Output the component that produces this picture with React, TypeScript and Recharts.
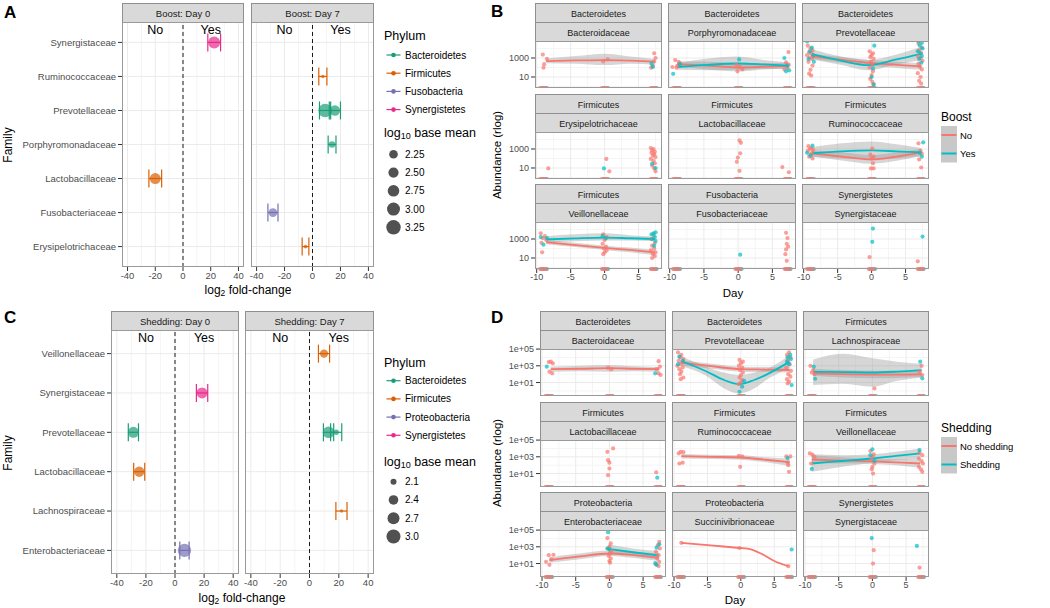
import React from "react";
import {
  ComposedChart,
  Scatter,
  Line,
  Area,
  XAxis,
  YAxis,
  CartesianGrid,
  ReferenceLine,
  ReferenceDot,
  ErrorBar,
} from "recharts";

const FONT = "'Liberation Sans', Arial, Helvetica, sans-serif";
const RED = "#F8766D";
const TEAL = "#00BFC4";
const MAJOR = "#EBEBEB";
const MINOR = "#F5F5F5";
const BORDER = "#9a9a9a";
const STRIP_FILL = "#D9D9D9";
const STRIP_LINE = "#8f8f8f";
const TICK_TEXT = "#4d4d4d";

const phylumColors: Record<string, string> = {
  Bacteroidetes: "#1B9E77",
  Firmicutes: "#D95F02",
  Fusobacteria: "#7570B3",
  Proteobacteria: "#7570B3",
  Synergistetes: "#E7298A",
};

// ---------- Panel A: log2 fold-change by boost ----------
const boostFamilies = [
  "Synergistaceae",
  "Ruminococcaceae",
  "Prevotellaceae",
  "Porphyromonadaceae",
  "Lactobacillaceae",
  "Fusobacteriaceae",
  "Erysipelotrichaceae",
];
const boostPhyla = ["Bacteroidetes", "Firmicutes", "Fusobacteria", "Synergistetes"];
const boostDay0 = [
  { family: "Synergistaceae", phylum: "Synergistetes", lfc: 22.5, se: 4.6, baseMean: 2.82 },
  { family: "Lactobacillaceae", phylum: "Firmicutes", lfc: -20, se: 4.6, baseMean: 2.64 },
];
const boostDay7 = [
  { family: "Ruminococcaceae", phylum: "Firmicutes", lfc: 7.4, se: 2.9, baseMean: 1.47 },
  { family: "Prevotellaceae", phylum: "Bacteroidetes", lfc: 9, se: 4, baseMean: 3.07 },
  { family: "Prevotellaceae", phylum: "Bacteroidetes", lfc: 16, se: 4, baseMean: 2.53 },
  { family: "Porphyromonadaceae", phylum: "Bacteroidetes", lfc: 14, se: 2.8, baseMean: 1.94 },
  { family: "Fusobacteriaceae", phylum: "Fusobacteria", lfc: -28.3, se: 3.6, baseMean: 2.28 },
  { family: "Erysipelotrichaceae", phylum: "Firmicutes", lfc: -5, se: 2.4, baseMean: 1.5 },
];
const boostSizeBreaks = [2.25, 2.5, 2.75, 3.0, 3.25];
const boostSizeRadii = [4.3, 5.1, 5.8, 6.5, 7.2];

// ---------- Panel C: log2 fold-change by shedding ----------
const shedFamilies = [
  "Veillonellaceae",
  "Synergistaceae",
  "Prevotellaceae",
  "Lactobacillaceae",
  "Lachnospiraceae",
  "Enterobacteriaceae",
];
const shedPhyla = ["Bacteroidetes", "Firmicutes", "Proteobacteria", "Synergistetes"];
const shedDay0 = [
  { family: "Synergistaceae", phylum: "Synergistetes", lfc: 18.6, se: 3.9, baseMean: 2.58 },
  { family: "Prevotellaceae", phylum: "Bacteroidetes", lfc: -28.6, se: 3.5, baseMean: 2.58 },
  { family: "Lactobacillaceae", phylum: "Firmicutes", lfc: -24.6, se: 3.8, baseMean: 2.5 },
  { family: "Enterobacteriaceae", phylum: "Proteobacteria", lfc: 6.5, se: 3.2, baseMean: 2.9 },
];
const shedDay7 = [
  { family: "Veillonellaceae", phylum: "Firmicutes", lfc: 9.9, se: 3.8, baseMean: 2.3 },
  { family: "Prevotellaceae", phylum: "Bacteroidetes", lfc: 13, se: 3.5, baseMean: 2.65 },
  { family: "Prevotellaceae", phylum: "Bacteroidetes", lfc: 18.2, se: 3.8, baseMean: 2.05 },
  { family: "Lachnospiraceae", phylum: "Firmicutes", lfc: 21.8, se: 3.8, baseMean: 1.88 },
];
const shedSizeBreaks = [2.1, 2.4, 2.7, 3.0];
const shedSizeRadii = [3.0, 4.8, 6.0, 7.0];

// ---------- axes ----------
const foldTicks = [-40, -20, 0, 20, 40];
const foldMinor = [-30, -10, 10, 30];
const dayTicks = [-10, -5, 0, 5];
const dayMinor = [-7.5, -2.5, 2.5, 7.5];
const boostAbTicks = [1, 3]; // log10 abundance
const shedAbTicks = [1, 3, 5];
const abMinor = [0, 2, 4];

// ---------- Panels B and D: log10 abundance by day ----------
type Pt = [number, number]; // [day, log10 abundance]
type Fit = [number, number, number?, number?]; // [day, fit, lower, upper]
type AbFacet = { phylum: string; family: string; no: Pt[]; yes: Pt[]; noFit?: Fit[]; yesFit?: Fit[] };

// samples with zero counts (drawn on the bottom edge)
const zeroDaysNo = [-9.5, -9.35, -9.2, -9.05, -8.9, -8.75, -8.6, -0.4, -0.25, -0.1, 0.05, 0.2, 0.35, 6.8, 6.95, 7.1, 7.25, 7.4, 7.55];
const zeroDaysYes = [-9.0, -8.5, 0.5, 7.65];

const bBacteroidaceae: AbFacet = {
  phylum: "Bacteroidetes",
  family: "Bacteroidaceae",
  no: [[-9.1, 3.36], [-8.9, 2.35], [-9.0, 1.98], [-8.5, 2.9], [-0.2, 2.64], [0.45, 2.85], [7.3, 3.5], [7.5, 3.0], [7.3, 2.64], [7.1, 2.16], [6.85, 1.98]],
  yes: [[7.1, 2.05], [6.9, 2.4]],
  noFit: [[-8.6, 2.68, 2.45, 2.95], [-4.3, 2.74, 2.4, 3.2], [0, 2.78, 2.25, 3.45], [3.8, 2.72, 2.4, 3.15], [7.4, 2.62, 2.3, 2.9]],
};
const bPorphyromonadaceae: AbFacet = {
  phylum: "Bacteroidetes",
  family: "Porphyromonadaceae",
  no: [[-9.2, 2.78], [-8.9, 2.16], [-8.5, 2.42], [-9.0, 1.98], [-9.6, 2.05], [-8.7, 2.6], [-0.1, 1.6], [0.6, 1.8], [0.2, 2.1], [-0.3, 2.3], [7.35, 3.62], [7.0, 2.53], [7.2, 1.98], [6.75, 1.8], [7.4, 2.3]],
  yes: [[-9.5, 1.33], [-8.5, 2.35], [0.15, 2.85], [6.75, 3.0], [7.0, 1.6], [7.45, 1.7], [7.2, 2.2]],
  noFit: [[-8.9, 2.35, 2.1, 2.65], [-4.4, 2.2, 1.8, 2.6], [0, 2.0, 1.6, 2.5], [3.7, 2.08, 1.8, 2.45], [7.3, 2.16, 1.9, 2.5]],
  yesFit: [[-8.9, 2.05, 1.75, 2.45], [-4.4, 2.28, 1.7, 2.95], [0, 2.42, 1.75, 3.15], [3.7, 2.33, 1.85, 2.8], [7.3, 2.2, 1.85, 2.55]],
};
const bPrevotellaceae: AbFacet = {
  phylum: "Bacteroidetes",
  family: "Prevotellaceae",
  no: [
    [-9.4, 4.3], [-9.0, 4.0], [-8.7, 3.8], [-9.2, 3.6], [-8.9, 3.45], [-9.5, 3.3], [-8.6, 3.2], [-9.1, 3.05], [-8.8, 2.9], [-9.3, 2.6], [-8.7, 2.2], [-9.0, 1.75], [-9.2, 1.35], [-8.9, 1.15],
    [-0.3, 3.7], [0.2, 3.5], [0.0, 3.3], [-0.2, 3.1], [0.3, 2.9], [-0.1, 2.6], [0.1, 2.3], [-0.3, 2.0], [0.2, 1.6], [0.0, 1.2], [-0.2, 0.8], [0.1, 0.5], [0.3, 0.25],
    [6.9, 4.5], [7.4, 4.1], [7.0, 3.8], [7.3, 3.5], [6.8, 3.2], [7.2, 3.0], [7.5, 2.7], [6.9, 2.4], [7.1, 2.1], [7.4, 1.8], [6.8, 1.4], [7.2, 1.0], [7.0, 0.6], [7.3, 0.3],
  ],
  yes: [
    [-9.5, 4.75], [-8.8, 4.1], [-9.1, 3.7], [-8.6, 3.3], [-9.3, 2.9], [-8.5, 2.6],
    [0.4, 4.3], [0.2, 1.9], [0.0, 1.0], [0.3, 0.2],
    [6.9, 4.75], [7.4, 4.6], [7.1, 4.3], [7.5, 4.0], [6.8, 3.7], [7.2, 3.5], [7.4, 3.2], [7.0, 2.9], [7.3, 2.5],
  ],
  noFit: [[-8.8, 3.18, 2.9, 3.45], [-4.4, 2.8, 2.5, 3.1], [0, 2.46, 2.15, 2.75], [3.7, 2.28, 1.95, 2.6], [7.3, 2.1, 1.75, 2.45]],
  yesFit: [[-8.8, 3.4, 2.85, 3.95], [-4.4, 2.7, 2.25, 3.15], [-0.5, 2.25, 1.7, 2.8], [3.5, 2.82, 2.3, 3.35], [7.3, 3.43, 2.75, 4.15]],
};
const bErysipelotrichaceae: AbFacet = {
  phylum: "Firmicutes",
  family: "Erysipelotrichaceae",
  no: [
    [-8.3, 0.95], [0.25, 1.95], [0.7, 0.65],
    [6.8, 3.1], [7.2, 3.0], [7.0, 2.85], [7.4, 2.7], [6.9, 2.6], [7.3, 2.45], [7.1, 2.3], [7.5, 2.15], [6.8, 1.95], [7.2, 1.75], [7.4, 1.5], [7.0, 1.25], [7.3, 0.95], [7.5, 0.65],
  ],
  yes: [[-0.1, 0.95], [7.0, 1.45], [7.5, 1.0]],
};
const bLactobacillaceae: AbFacet = {
  phylum: "Firmicutes",
  family: "Lactobacillaceae",
  no: [[0.2, 3.9], [0.4, 3.65], [0.3, 2.55], [-0.05, 2.1], [-0.2, 1.65], [0.2, 0.7], [6.45, 1.1], [7.4, 0.55]],
  yes: [],
};
const bRuminococcaceae: AbFacet = {
  phylum: "Firmicutes",
  family: "Ruminococcaceae",
  no: [
    [-9.3, 3.3], [-8.9, 3.1], [-9.1, 3.0], [-8.6, 2.9], [-9.4, 2.8], [-8.8, 2.6], [-9.0, 2.4], [-9.2, 2.2], [-8.7, 2.0],
    [0.1, 3.05], [-0.2, 2.4], [0.3, 2.2], [0.0, 2.0], [0.2, 1.5], [-0.1, 0.95], [0.3, 0.95],
    [6.9, 3.6], [7.2, 2.8], [7.4, 2.5], [7.0, 1.9], [7.3, 1.05],
  ],
  yes: [[-9.5, 2.6], [-8.7, 3.35], [-9.0, 2.3], [7.6, 3.7], [7.1, 2.6], [7.4, 2.2]],
  noFit: [[-8.8, 2.55, 2.2, 2.9], [-4.4, 2.2, 1.8, 2.65], [0, 1.9, 1.45, 2.35], [3.7, 2.2, 1.75, 2.65], [7.3, 2.64, 2.3, 3.0]],
  yesFit: [[-8.8, 2.55, 2.15, 3.2], [-4.4, 2.75, 2.0, 3.6], [0, 2.85, 1.9, 3.8], [3.7, 2.75, 2.0, 3.5], [7.3, 2.64, 2.2, 3.1]],
};
const bVeillonellaceae: AbFacet = {
  phylum: "Firmicutes",
  family: "Veillonellaceae",
  no: [
    [-9.4, 3.6], [-8.8, 3.3], [-9.1, 3.1], [-8.6, 2.9], [-9.3, 2.6], [-9.2, 1.6],
    [-0.2, 3.5], [0.3, 3.2], [0.0, 2.9], [-0.3, 2.5], [0.2, 2.2], [-0.1, 2.0], [0.3, 1.8], [0.0, 1.6], [-0.2, 1.4],
    [7.2, 3.4], [6.9, 3.0], [7.4, 2.6], [7.0, 2.3], [7.3, 2.0], [6.8, 1.8], [7.5, 1.6], [7.1, 1.4], [7.4, 1.2], [7.0, 1.0],
  ],
  yes: [[-9.4, 3.2], [-8.5, 3.1], [-9.0, 2.4], [-0.3, 3.3], [0.2, 3.1], [7.5, 3.7], [7.2, 3.6], [6.9, 3.5], [7.4, 3.2], [7.0, 3.0], [7.5, 2.8], [7.3, 2.3]],
  noFit: [[-8.6, 2.65, 2.45, 2.9], [-4.3, 2.35, 2.15, 2.6], [0, 2.07, 1.85, 2.3], [3.7, 1.85, 1.6, 2.1], [7.4, 1.6, 1.3, 1.85]],
  yesFit: [[-8.6, 2.95, 2.6, 3.3], [-4.3, 3.07, 2.75, 3.5], [0, 3.15, 2.85, 3.6], [3.7, 3.08, 2.85, 3.4], [7.4, 3.0, 2.75, 3.25]],
};
const bFusobacteriaceae: AbFacet = {
  phylum: "Fusobacteria",
  family: "Fusobacteriaceae",
  no: [[7.0, 3.65], [7.2, 3.1], [7.1, 2.5], [7.3, 2.2], [7.0, 1.9], [6.9, 1.4], [7.1, 0.7]],
  yes: [[0.3, 1.35]],
};
const bSynergistaceae: AbFacet = {
  phylum: "Synergistetes",
  family: "Synergistaceae",
  no: [[-0.3, 1.1], [6.8, 0.65]],
  yes: [[0.2, 4.1], [0.1, 2.7], [7.5, 3.25]],
};

const dBacteroidaceae: AbFacet = {
  phylum: "Bacteroidetes",
  family: "Bacteroidaceae",
  no: [[-9.0, 3.45], [-8.7, 3.5], [-8.9, 2.3], [-8.5, 2.1], [-8.4, 3.3], [-0.2, 2.75], [0.3, 2.6], [7.3, 3.55], [7.5, 2.9], [7.0, 2.6], [7.3, 2.1], [7.6, 1.9]],
  yes: [[-9.3, 2.9], [6.8, 2.1]],
  noFit: [[-8.7, 2.6, 2.3, 2.9], [-4.3, 2.65, 2.35, 3.0], [0, 2.72, 2.3, 3.1], [3.7, 2.65, 2.35, 2.95], [7.4, 2.6, 2.3, 2.85]],
};
const dPrevotellaceae: AbFacet = {
  phylum: "Bacteroidetes",
  family: "Prevotellaceae",
  no: [
    [-9.4, 4.6], [-8.9, 4.3], [-9.1, 4.0], [-8.6, 3.8], [-9.3, 3.6], [-8.8, 3.4], [-9.0, 3.2], [-9.5, 3.0], [-8.7, 2.8], [-9.2, 2.6], [-8.9, 2.3], [-9.1, 2.0], [-8.6, 1.6], [-9.0, 1.4],
    [-0.2, 3.7], [0.3, 3.5], [0.0, 3.3], [-0.3, 3.0], [0.2, 2.8], [-0.1, 2.5], [0.3, 2.2], [0.0, 1.9], [-0.2, 1.6], [0.2, 1.3], [0.0, 1.0], [-0.3, 0.8],
    [7.2, 4.6], [6.9, 4.3], [7.4, 4.0], [7.0, 3.6], [7.3, 3.2], [6.8, 2.8], [7.5, 2.4], [7.1, 2.0], [7.4, 1.7], [6.9, 1.4], [7.2, 1.1], [7.0, 0.9],
  ],
  yes: [[-9.2, 4.1], [-8.7, 3.6], [-9.4, 3.2], [0.5, 1.2], [0.2, 0.5], [-0.2, -0.1], [7.4, 4.3], [7.0, 4.0], [7.5, 3.8], [6.9, 3.5], [7.2, 3.2], [7.6, 0.7]],
  noFit: [[-8.8, 3.35, 3.05, 3.65], [-4.4, 2.95, 2.65, 3.25], [0, 2.6, 2.3, 2.9], [3.7, 2.55, 2.25, 2.85], [7.3, 2.5, 2.2, 2.8]],
  yesFit: [[-8.8, 3.55, 2.95, 4.1], [-5.2, 2.35, 1.8, 2.9], [-2.5, 1.3, 0.3, 2.2], [-0.3, 0.8, -0.3, 1.9], [2.0, 1.3, 0.3, 2.2], [4.2, 2.1, 1.5, 2.75], [7.3, 3.5, 2.75, 4.3]],
};
const dLachnospiraceae: AbFacet = {
  phylum: "Firmicutes",
  family: "Lachnospiraceae",
  no: [[-9.2, 3.0], [-8.8, 2.5], [-9.0, 2.2], [-8.6, 2.0], [0.3, 0.3], [7.3, 3.0], [7.0, 2.3], [7.4, 1.9]],
  yes: [[-8.7, 2.9], [-8.5, 1.45], [7.1, 3.5], [7.4, 1.5]],
  noFit: [[-8.8, 2.1, 1.8, 2.65], [-4.4, 2.0, 1.6, 2.5], [0, 1.95, 1.5, 2.4], [3.7, 1.95, 1.55, 2.4], [7.3, 1.98, 1.65, 2.4]],
  yesFit: [[-8.8, 2.28, 0.7, 3.75], [-4.4, 2.25, 0.85, 4.45], [0, 2.2, 0.5, 3.9], [3.7, 2.3, 1.2, 3.5], [7.3, 2.48, 1.6, 3.25]],
};
const dLactobacillaceae: AbFacet = {
  phylum: "Firmicutes",
  family: "Lactobacillaceae",
  no: [[0.55, 4.0], [-0.3, 3.6], [-0.2, 2.6], [0.0, 2.3], [0.0, 1.6], [-0.2, 0.8], [6.95, 1.15]],
  yes: [[7.1, 0.5]],
};
const dRuminococcaceae: AbFacet = {
  phylum: "Firmicutes",
  family: "Ruminococcaceae",
  no: [[-9.3, 3.4], [-9.0, 3.6], [-8.6, 3.55], [-9.2, 2.2], [-8.7, 2.3], [-0.3, 3.1], [0.2, 3.05], [-0.1, 1.8], [6.8, 3.05], [7.4, 3.05], [7.0, 2.3], [7.1, 2.0], [7.2, 1.2]],
  yes: [[7.0, 2.85]],
  noFit: [[-8.9, 3.08, 2.8, 3.35], [-4.4, 3.0, 2.75, 3.25], [0, 2.92, 2.65, 3.2], [3.7, 2.65, 2.35, 2.95], [7.3, 2.36, 1.9, 2.8]],
};
const dVeillonellaceae: AbFacet = {
  phylum: "Firmicutes",
  family: "Veillonellaceae",
  no: [
    [-9.3, 3.4], [-8.9, 3.25], [-9.1, 2.2], [-8.6, 3.0],
    [-0.3, 3.68], [0.2, 3.3], [0.0, 3.0], [-0.2, 2.6], [0.3, 2.2], [0.0, 1.8], [-0.1, 1.5], [0.1, 1.0],
    [7.0, 3.5], [7.4, 3.2], [6.9, 2.8], [7.3, 2.5], [7.5, 2.2], [6.9, 1.8], [7.2, 1.5], [7.4, 1.2],
  ],
  yes: [[-9.0, 1.55], [0.0, 3.9], [-0.3, 3.2], [0.3, 2.5], [7.0, 3.8]],
  noFit: [[-9.0, 2.68, 2.2, 3.2], [-4.5, 2.55, 2.2, 2.95], [0, 2.45, 2.15, 2.75], [3.5, 2.33, 2.0, 2.7], [7.1, 2.2, 1.7, 2.7]],
  yesFit: [[-9.0, 2.2, 1.2, 3.3], [-4.5, 2.5, 1.8, 3.2], [0, 2.8, 2.3, 3.3], [3.5, 3.1, 2.6, 3.6], [7.1, 3.4, 2.75, 4.0]],
};
const dEnterobacteriaceae: AbFacet = {
  phylum: "Proteobacteria",
  family: "Enterobacteriaceae",
  no: [
    [-9.4, 1.2], [-9.0, 2.0], [-8.9, 0.85], [-8.6, 1.5], [-8.3, 2.05],
    [-0.3, 4.05], [0.2, 3.4], [0.0, 3.0], [-0.2, 2.8], [0.3, 2.5], [0.1, 2.2], [-0.1, 1.9], [0.2, 1.6], [0.0, 1.3], [0.1, 1.1],
    [7.4, 3.6], [7.2, 3.2], [7.5, 2.8], [6.9, 2.4], [7.3, 2.0], [7.1, 1.6], [7.4, 1.2], [6.9, 0.9], [7.3, 0.7],
  ],
  yes: [[-0.2, 4.75], [-0.3, 2.8], [0.0, 2.7], [7.4, 3.3], [7.0, 2.9], [6.8, 1.05], [7.0, 0.85]],
  noFit: [[-8.9, 1.4, 1.1, 1.75], [-4.4, 1.85, 1.5, 2.2], [0, 2.2, 1.9, 2.55], [3.7, 2.0, 1.65, 2.4], [7.3, 1.7, 1.3, 2.2]],
  yesFit: [[-0.2, 2.76, 2.3, 3.3], [3.5, 2.35, 1.9, 2.8], [7.3, 1.96, 1.5, 2.5]],
};
const dSuccinivibrionaceae: AbFacet = {
  phylum: "Proteobacteria",
  family: "Succinivibrionaceae",
  no: [[-8.9, 3.48], [-0.2, 2.86], [7.1, 0.68]],
  yes: [[7.6, 2.68]],
  noFit: [[-8.9, 3.48], [-4.5, 3.18], [-0.2, 2.86], [1.0, 2.78], [3.0, 2.2], [5.0, 1.3], [7.1, 0.68]],
};
const dSynergistaceae: AbFacet = {
  phylum: "Synergistetes",
  family: "Synergistaceae",
  no: [[0.2, 2.6], [0.1, 1.0], [7.0, 0.5]],
  yes: [[-0.1, 4.05], [6.6, 3.1]],
};

const boostFacets = [
  bBacteroidaceae, bPorphyromonadaceae, bPrevotellaceae,
  bErysipelotrichaceae, bLactobacillaceae, bRuminococcaceae,
  bVeillonellaceae, bFusobacteriaceae, bSynergistaceae,
];
const shedFacets = [
  dBacteroidaceae, dPrevotellaceae, dLachnospiraceae,
  dLactobacillaceae, dRuminococcaceae, dVeillonellaceae,
  dEnterobacteriaceae, dSuccinivibrionaceae, dSynergistaceae,
];

// ---------- layout ----------
const M = { top: 8, right: 8, bottom: 0, left: 10 };
const A_TOP = 22;
const A_H = 245;
const C_TOP = 330;
const C_H = 244;
const B_COLS = [535, 668, 802];
const B_W = [127, 128, 127];
const B_ROWS = [41, 132, 222];
const D_COLS = [540, 672, 803];
const D_W = [126, 125, 126];
const D_ROWS = [349, 440, 530];
const AB_H = 47;

function sizeScale(breaks: number[], radii: number[]) {
  return (v: number) => {
    const n = breaks.length;
    if (v <= breaks[0]) {
      const s = (radii[1] - radii[0]) / (breaks[1] - breaks[0]);
      return Math.max(1.5, radii[0] + (v - breaks[0]) * s);
    }
    for (let i = 1; i < n; i++) {
      if (v <= breaks[i]) {
        const t = (v - breaks[i - 1]) / (breaks[i] - breaks[i - 1]);
        return radii[i - 1] + t * (radii[i] - radii[i - 1]);
      }
    }
    const s = (radii[n - 1] - radii[n - 2]) / (breaks[n - 1] - breaks[n - 2]);
    return radii[n - 1] + (v - breaks[n - 1]) * s;
  };
}
const boostRadius = sizeScale(boostSizeBreaks, boostSizeRadii);
const shedRadius = sizeScale(shedSizeBreaks, shedSizeRadii);

interface FoldRow {
  family: string;
  phylum: string;
  lfc: number;
  se: number;
  baseMean: number;
}

function FoldFacet(props: {
  rows: FoldRow[];
  families: string[];
  phyla: string[];
  left: number;
  top: number;
  w: number;
  h: number;
  showY: boolean;
  yAxisW: number;
  radius: (v: number) => number;
  labelY: number;
}) {
  const { rows, families, phyla, left, top, w, h, showY, yAxisW, radius, labelY } = props;
  const n = families.length;
  const yw = showY ? yAxisW : 0;
  const xh = 20;
  const table = rows.map((r) => ({ ...r, yi: n - 1 - families.indexOf(r.family) }));
  const yTicks = families.map((_, i) => i);
  const tick = { fontSize: 9.5, fill: TICK_TEXT, fontFamily: FONT };
  const label = (value: string) => ({ value, position: "center" as const, fontSize: 12.5, fill: "#000", fontFamily: FONT });
  return (
    <div style={{ position: "absolute", left: left - yw - M.left, top: top - M.top }}>
      <ComposedChart width={w + yw + M.left + M.right} height={h + xh + M.top + M.bottom} margin={M}>
        <CartesianGrid verticalValues={foldMinor} horizontal={false} stroke={MINOR} />
        <CartesianGrid verticalValues={foldTicks} horizontalValues={yTicks} stroke={MAJOR} />
        <XAxis
          type="number"
          dataKey="lfc"
          domain={[-44, 44]}
          ticks={foldTicks}
          interval={0}
          allowDataOverflow
          height={xh}
          tick={tick}
          tickSize={4}
          tickMargin={1}
          tickLine={{ stroke: "#333" }}
          axisLine={false}
        />
        <YAxis
          type="number"
          domain={[-0.6, n - 0.4]}
          ticks={yTicks}
          interval={0}
          allowDataOverflow
          hide={!showY}
          width={yAxisW}
          tick={tick}
          tickSize={4}
          tickMargin={2}
          tickLine={{ stroke: "#333" }}
          axisLine={false}
          tickFormatter={(v: number) => families[n - 1 - v] ?? ""}
        />
        <ReferenceLine x={0} stroke="#1a1a1a" strokeDasharray="4 3" strokeWidth={1} />
        <ReferenceDot x={-20} y={labelY} r={0} fill="none" stroke="none" label={label("No")} />
        <ReferenceDot x={20} y={labelY} r={0} fill="none" stroke="none" label={label("Yes")} />
        {phyla.map((p) => {
          const data = table.filter((r) => r.phylum === p);
          if (!data.length) return null;
          const c = phylumColors[p];
          return (
            <Scatter
              key={p}
              data={data}
              dataKey="yi"
              isAnimationActive={false}
              shape={(s: any) => (
                <circle cx={s.cx} cy={s.cy} r={radius(s.payload.baseMean)} fill={c} fillOpacity={0.7} />
              )}
            >
              <ErrorBar dataKey="se" direction="x" width={9} stroke={c} strokeWidth={1.2} />
            </Scatter>
          );
        })}
      </ComposedChart>
    </div>
  );
}

function dotShape(color: string) {
  return (s: any) => <circle cx={s.cx} cy={s.cy} r={2.1} fill={color} fillOpacity={0.7} />;
}

function AbundanceFacet(props: {
  f: AbFacet;
  left: number;
  top: number;
  w: number;
  h: number;
  showX: boolean;
  showY: boolean;
  xDomain: [number, number];
  yDomain: [number, number];
  yTicks: number[];
  yFmt: (v: number) => string;
}) {
  const { f, left, top, w, h, showX, showY, xDomain, yDomain, yTicks, yFmt } = props;
  const yw = showY ? 42 : 0;
  const xh = showX ? 18 : 0;
  const floor = yDomain[0];
  const pts = (list: Pt[]) => list.map(([d, v]) => ({ day: d, v }));
  const zeros = (days: number[]) => days.map((d) => ({ day: d, v: floor }));
  const fit = (list?: Fit[]) =>
    (list ?? []).map(([d, m, l, u]) => ({ day: d, fit: m, band: l === undefined ? undefined : [l, u] }));
  const noFit = fit(f.noFit);
  const yesFit = fit(f.yesFit);
  const hasBand = (r: { band?: unknown }[]) => r.length > 0 && r[0].band !== undefined;
  const tick = { fontSize: 9, fill: TICK_TEXT, fontFamily: FONT };
  return (
    <div style={{ position: "absolute", left: left - yw - M.left, top: top - M.top }}>
      <ComposedChart width={w + yw + M.left + M.right} height={h + xh + M.top + M.bottom} margin={M}>
        <CartesianGrid verticalValues={dayMinor} horizontalValues={abMinor} stroke={MINOR} />
        <CartesianGrid verticalValues={dayTicks} horizontalValues={yTicks} stroke={MAJOR} />
        <XAxis
          type="number"
          dataKey="day"
          domain={xDomain}
          ticks={dayTicks}
          interval={0}
          hide={!showX}
          height={18}
          tick={tick}
          tickSize={4}
          tickMargin={1}
          tickLine={{ stroke: "#333" }}
          axisLine={false}
        />
        <YAxis
          type="number"
          domain={yDomain}
          ticks={yTicks}
          interval={0}
          hide={!showY}
          width={42}
          tick={tick}
          tickSize={4}
          tickMargin={2}
          tickLine={{ stroke: "#333" }}
          axisLine={false}
          tickFormatter={yFmt}
        />
        {hasBand(noFit) && (
          <Area data={noFit} dataKey="band" type="monotone" stroke="none" fill="#999999" fillOpacity={0.4} dot={false} activeDot={false} isAnimationActive={false} />
        )}
        {hasBand(yesFit) && (
          <Area data={yesFit} dataKey="band" type="monotone" stroke="none" fill="#999999" fillOpacity={0.4} dot={false} activeDot={false} isAnimationActive={false} />
        )}
        <Scatter data={zeros(zeroDaysYes)} dataKey="v" isAnimationActive={false} shape={dotShape(TEAL)} />
        <Scatter data={zeros(zeroDaysNo)} dataKey="v" isAnimationActive={false} shape={dotShape(RED)} />
        <Scatter data={pts(f.no)} dataKey="v" isAnimationActive={false} shape={dotShape(RED)} />
        <Scatter data={pts(f.yes)} dataKey="v" isAnimationActive={false} shape={dotShape(TEAL)} />
        {noFit.length > 0 && (
          <Line data={noFit} dataKey="fit" type="monotone" stroke={RED} strokeWidth={1.8} dot={false} activeDot={false} isAnimationActive={false} />
        )}
        {yesFit.length > 0 && (
          <Line data={yesFit} dataKey="fit" type="monotone" stroke={TEAL} strokeWidth={1.8} dot={false} activeDot={false} isAnimationActive={false} />
        )}
      </ComposedChart>
    </div>
  );
}

function Strip({ x, y, w, label, fs }: { x: number; y: number; w: number; label: string; fs: number }) {
  return (
    <g>
      <rect x={x + 0.5} y={y + 0.5} width={w - 1} height={19} fill={STRIP_FILL} stroke={STRIP_LINE} />
      <text x={x + w / 2} y={y + 10.5} fontSize={fs} fill="#1a1a1a" textAnchor="middle" dominantBaseline="central">
        {label}
      </text>
    </g>
  );
}

function PanelBox({ x, y, w, h }: { x: number; y: number; w: number; h: number }) {
  return <rect x={x + 0.5} y={y + 0.5} width={w - 1} height={h - 1} fill="none" stroke={BORDER} />;
}

function FoldLegend({ phyla, titleY, itemY0, sizeTitleY, sizeY0, breaks, radius, fmt }: {
  phyla: string[];
  titleY: number;
  itemY0: number;
  sizeTitleY: number;
  sizeY0: number;
  breaks: number[];
  radius: (v: number) => number;
  fmt: (v: number) => string;
}) {
  return (
    <g>
      <text x={384} y={titleY} fontSize={12.5} dominantBaseline="central">Phylum</text>
      {phyla.map((p, i) => {
        const y = itemY0 + i * 18.2;
        return (
          <g key={p}>
            <line x1={386.5} x2={400.5} y1={y} y2={y} stroke={phylumColors[p]} strokeWidth={1.2} />
            <circle cx={393.5} cy={y} r={2.3} fill={phylumColors[p]} />
            <text x={405} y={y} fontSize={10} dominantBaseline="central">{p}</text>
          </g>
        );
      })}
      <text x={384} y={sizeTitleY} fontSize={12.5} dominantBaseline="central">
        log<tspan fontSize={9} dy={3}>10</tspan>
        <tspan dy={-3}> base mean</tspan>
      </text>
      {breaks.map((b, i) => {
        const y = sizeY0 + i * 18.25;
        return (
          <g key={b}>
            <circle cx={393.5} cy={y} r={radius(b)} fill="#333" fillOpacity={0.85} />
            <text x={405} y={y} fontSize={10} dominantBaseline="central">{fmt(b)}</text>
          </g>
        );
      })}
    </g>
  );
}

function GroupLegend({ title, titleY, labels }: { title: string; titleY: number; labels: string[] }) {
  const y0 = titleY + 9;
  return (
    <g>
      <text x={941} y={titleY} fontSize={12} dominantBaseline="central">{title}</text>
      <rect x={941} y={y0} width={16} height={36.5} fill="#C8C8C8" />
      {labels.map((l, i) => {
        const y = y0 + 9 + i * 18.5;
        return (
          <g key={l}>
            <line x1={941.5} x2={956.5} y1={y} y2={y} stroke={i === 0 ? RED : TEAL} strokeWidth={2} />
            <text x={960} y={y} fontSize={9.5} dominantBaseline="central">{l}</text>
          </g>
        );
      })}
    </g>
  );
}

function Overlay() {
  const aFacets = [
    { left: 122, w: 122, title: "Boost: Day 0" },
    { left: 251, w: 123, title: "Boost: Day 7" },
  ];
  const cFacets = [
    { left: 111, w: 128, title: "Shedding: Day 0" },
    { left: 245, w: 129, title: "Shedding: Day 7" },
  ];
  return (
    <svg
      width={1050}
      height={608}
      style={{ position: "absolute", left: 0, top: 0, pointerEvents: "none" }}
      fontFamily={FONT}
    >
      <text x={4} y={18} fontSize={17} fontWeight="bold">A</text>
      <text x={491} y={17} fontSize={17} fontWeight="bold">B</text>
      <text x={4} y={323} fontSize={17} fontWeight="bold">C</text>
      <text x={491} y={323} fontSize={17} fontWeight="bold">D</text>

      {aFacets.map((f) => (
        <g key={f.title}>
          <Strip x={f.left} y={A_TOP - 19} w={f.w} label={f.title} fs={9.5} />
          <PanelBox x={f.left} y={A_TOP} w={f.w} h={A_H} />
        </g>
      ))}
      {cFacets.map((f) => (
        <g key={f.title}>
          <Strip x={f.left} y={C_TOP - 19} w={f.w} label={f.title} fs={9.5} />
          <PanelBox x={f.left} y={C_TOP} w={f.w} h={C_H} />
        </g>
      ))}
      {boostFacets.map((f, i) => {
        const x = B_COLS[i % 3];
        const w = B_W[i % 3];
        const y = B_ROWS[Math.floor(i / 3)];
        return (
          <g key={"b" + f.family}>
            <Strip x={x} y={y - 38} w={w} label={f.phylum} fs={9} />
            <Strip x={x} y={y - 19} w={w} label={f.family} fs={9} />
            <PanelBox x={x} y={y} w={w} h={AB_H} />
          </g>
        );
      })}
      {shedFacets.map((f, i) => {
        const x = D_COLS[i % 3];
        const w = D_W[i % 3];
        const y = D_ROWS[Math.floor(i / 3)];
        return (
          <g key={"d" + f.family}>
            <Strip x={x} y={y - 38} w={w} label={f.phylum} fs={9} />
            <Strip x={x} y={y - 19} w={w} label={f.family} fs={9} />
            <PanelBox x={x} y={y} w={w} h={AB_H} />
          </g>
        );
      })}

      {/* axis titles */}
      <text transform="translate(8,145) rotate(-90)" fontSize={12} textAnchor="middle" dominantBaseline="central">Family</text>
      <text x={248} y={290} fontSize={12} textAnchor="middle" dominantBaseline="central">
        log<tspan fontSize={8.5} dy={3}>2</tspan>
        <tspan dy={-3}> fold-change</tspan>
      </text>
      <text transform="translate(8,453) rotate(-90)" fontSize={12} textAnchor="middle" dominantBaseline="central">Family</text>
      <text x={242} y={598} fontSize={12} textAnchor="middle" dominantBaseline="central">
        log<tspan fontSize={8.5} dy={3}>2</tspan>
        <tspan dy={-3}> fold-change</tspan>
      </text>
      <text transform="translate(497,155) rotate(-90)" fontSize={11.5} textAnchor="middle" dominantBaseline="central">Abundance (rlog)</text>
      <text x={733} y={293} fontSize={11.5} textAnchor="middle" dominantBaseline="central">Day</text>
      <text transform="translate(497,463) rotate(-90)" fontSize={11.5} textAnchor="middle" dominantBaseline="central">Abundance (rlog)</text>
      <text x={735} y={600} fontSize={11.5} textAnchor="middle" dominantBaseline="central">Day</text>

      {/* legends */}
      <FoldLegend
        phyla={boostPhyla}
        titleY={36}
        itemY0={55}
        sizeTitleY={133}
        sizeY0={154.3}
        breaks={boostSizeBreaks}
        radius={boostRadius}
        fmt={(v) => v.toFixed(2)}
      />
      <FoldLegend
        phyla={shedPhyla}
        titleY={362.5}
        itemY0={380.7}
        sizeTitleY={462}
        sizeY0={481.7}
        breaks={shedSizeBreaks}
        radius={shedRadius}
        fmt={(v) => v.toFixed(1)}
      />
      <GroupLegend title="Boost" titleY={117} labels={["No", "Yes"]} />
      <GroupLegend title="Shedding" titleY={428} labels={["No shedding", "Shedding"]} />
    </svg>
  );
}

export default function App() {
  return (
    <div
      style={{
        position: "absolute",
        left: 0,
        top: 0,
        width: 1050,
        height: 608,
        background: "#fff",
        fontFamily: FONT,
        overflow: "hidden",
      }}
    >
      {[boostDay0, boostDay7].map((rows, i) => (
        <FoldFacet
          key={"a" + i}
          rows={rows}
          families={boostFamilies}
          phyla={boostPhyla}
          left={i === 0 ? 122 : 251}
          top={A_TOP}
          w={i === 0 ? 122 : 123}
          h={A_H}
          showY={i === 0}
          yAxisW={110}
          radius={boostRadius}
          labelY={6.39}
        />
      ))}
      {[shedDay0, shedDay7].map((rows, i) => (
        <FoldFacet
          key={"c" + i}
          rows={rows}
          families={shedFamilies}
          phyla={shedPhyla}
          left={i === 0 ? 111 : 245}
          top={C_TOP}
          w={i === 0 ? 128 : 129}
          h={C_H}
          showY={i === 0}
          yAxisW={100}
          radius={shedRadius}
          labelY={5.4}
        />
      ))}
      {boostFacets.map((f, i) => (
        <AbundanceFacet
          key={"b" + f.family}
          f={f}
          left={B_COLS[i % 3]}
          top={B_ROWS[Math.floor(i / 3)]}
          w={B_W[i % 3]}
          h={AB_H}
          showX={Math.floor(i / 3) === 2}
          showY={i % 3 === 0}
          xDomain={[-10.25, 8.45]}
          yDomain={[-0.16, 4.79]}
          yTicks={boostAbTicks}
          yFmt={(v) => String(Math.round(10 ** v))}
        />
      ))}
      {shedFacets.map((f, i) => (
        <AbundanceFacet
          key={"d" + f.family}
          f={f}
          left={D_COLS[i % 3]}
          top={D_ROWS[Math.floor(i / 3)]}
          w={D_W[i % 3]}
          h={AB_H}
          showX={Math.floor(i / 3) === 2}
          showY={i % 3 === 0}
          xDomain={[-10.3, 8.4]}
          yDomain={[-0.61, 5.01]}
          yTicks={shedAbTicks}
          yFmt={(v) => "1e+0" + v}
        />
      ))}
      <Overlay />
    </div>
  );
}
